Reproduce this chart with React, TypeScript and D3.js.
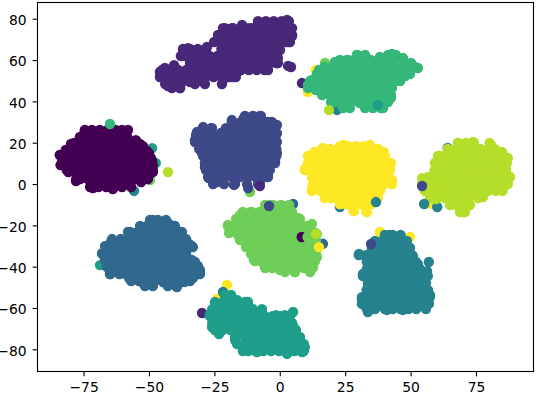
import * as d3 from 'd3';
import React from 'react';

const digit0 = [
  [26.4, -74.7, -72, -69, -66, -63, -60.5, -58.2],
  [23, -76.6, -73.5, -70.5, -67.5, -64.5, -61.5, -58.5],
  [19.6, -80, -78, -75, -72, -69, -66, -63, -60, -57, -53.6],
  [16.2, -81.5, -79.5, -76.5, -73.5, -70.5, -67.5, -64.5, -61.5, -58.5, -55.5, -52.5, -51],
  [12.8, -83.5, -81, -78, -75, -72, -69, -66, -63, -60, -57, -54, -51, -49.4],
  [9.4, -84, -82.5, -79.5, -76.5, -73.5, -70.5, -67.5, -64.5, -61.5, -58.5, -55.5, -52.5, -49.5, -48.7],
  [6, -81, -78, -75, -72, -69, -66, -63, -60, -57, -54, -51, -48.7],
  [2.7, -78, -76.5, -73.5, -70.5, -67.5, -64.5, -61.5, -58.5, -55.5, -52.5, -50.6],
  [-1.2, -72.7, -69.5, -66.5, -63.5, -60.5, -57],
];

const digit1 = [
  [79.1, -8.5, -5.5, -2.5, 0.5, 3.3],
  [75.7, -21.9, -18, -15, -12, -9, -6, -3, 0, 3, 4.5],
  [72.4, -23.8, -22.5, -19.5, -16.5, -13.5, -10.5, -7.5, -4.5, -1.5, 1.5, 4.5],
  [69, -25.3, -22, -19, -16, -13, -10, -7, -4, -1, 2, 3.7],
  [65.6, -37.2, -34.5, -31.5, -28.4, -22.5, -19.5, -16.5, -13.5, -10.5, -7.5, -4.5, -1.5, -0.9],
  [62.2, -38, -36, -33, -30, -27, -24, -21, -18, -15, -12, -9, -6, -3, -1.3],
  [58.8, -34.5, -31.5, -28.5, -25.5, -22.5, -19.5, -16.5, -13.5, -10.5, -7.5, -4.5, -1.5, -0.9],
  [55.4, -45.2, -42, -39, -36, -33, -30, -27, -24, -21, -18, -15, -12, -9, -6, -4.7],
  [52, -46, -43.5, -40.5, -37.5, -34.5, -31.5, -28.5, -25.5, -22.5, -19.5, -18, -17],
  [48.6, -44, -41, -38, -32.6, -28.8, -22.3],
  [46.7, -41.4, -38.3],
  [56.9, 4.1],
  [57.4, 3],
  [49.1, 8.3],
];

const digit2 = [
  [33.2, -13.5, -10.5, -7.4],
  [30.3, -18.5, -15, -12, -9, -6, -3.2],
  [27.3, -29.5, -26.5, -20.8, -18, -15, -12, -9, -6, -3, -2],
  [24, -32.2, -28.5, -25.5, -22.5, -19.5, -16.5, -13.5, -10.5, -7.5, -4.5, -1.6],
  [20.6, -32.6, -30, -27, -24, -21, -18, -15, -12, -9, -6, -3, -1.3],
  [17.2, -31, -28.5, -25.5, -22.5, -19.5, -16.5, -13.5, -10.5, -7.5, -4.5, -1.5],
  [13.8, -29.5, -27, -24, -21, -18, -15, -12, -9, -6, -3, -1.5],
  [10.4, -28.8, -25.5, -22.5, -19.5, -16.5, -13.5, -10.5, -7.5, -4.5, -2],
  [7, -28.4, -25, -22, -19, -16, -13, -10, -7, -4],
  [3.6, -27.6, -24.5, -21.5, -18.5, -15.5, -12.5, -9.5, -6.5, -4.7],
  [0.2, -25.7, -21.5, -17.3, -12.7, -8.5],
];

const digit3 = [
  [-17.2, -49.8, -46.8, -43.7],
  [-20.1, -53.6, -51, -48, -45, -42, -40.3],
  [-23, -57.4, -54.5, -51.5, -48.5, -45.5, -42.5, -39.5, -38.3],
  [-26.4, -64.3, -61, -58, -55, -52, -49, -46, -43, -40, -37, -36],
  [-29.8, -67, -64.5, -61.5, -58.5, -55.5, -52.5, -49.5, -46.5, -43.5, -40.5, -37.5, -34.5, -33.8],
  [-33.2, -68.1, -65, -62, -59, -56, -53, -50, -47, -44, -41, -38, -36],
  [-36.5, -67, -64.5, -61.5, -58.5, -55.5, -52.5, -49.5, -46.5, -43.5, -40.5, -37.5, -33.8],
  [-39.9, -66.2, -63, -60, -57, -54, -51, -48, -45, -42, -39, -36, -33, -31.8],
  [-43.3, -65, -61.5, -59, -55.5, -52.5, -49.5, -46.5, -43.5, -40.5, -37.5, -34.5, -31.5, -30.7],
  [-46.7, -57, -54, -51, -48, -45, -42, -39, -36, -34.5],
  [-49.1, -51.7, -48.7, -43, -39.9],
];

const digit4 = [
  [-24.4, 40, 43, 46],
  [-27.3, 36.2, 39, 42, 45, 48.4],
  [-30.7, 35, 37.5, 40.5, 43.5, 46.5, 49.6],
  [-34.1, 30, 33, 36, 39, 42, 45, 48, 50.3],
  [-37.5, 33.1, 34.5, 37.5, 40.5, 43.5, 46.5, 49.5, 51.9, 56.8],
  [-40.9, 33.1, 36, 39, 42, 45, 48, 51, 53.4],
  [-44.3, 31.6, 34.5, 37.5, 40.5, 43.5, 46.5, 49.5, 52.5, 55.5, 56.4],
  [-47.7, 33.5, 36, 39, 42, 45, 48, 51, 54, 55.3],
  [-51.1, 33, 34.5, 37.5, 40.5, 43.5, 46.5, 49.5, 52.5, 55.5, 56.5],
  [-54.5, 31.2, 33, 36, 39, 42, 45, 48, 51, 54, 57.2],
  [-57.8, 31.2, 34.5, 37.5, 40.5, 43.5, 46.5, 49.5, 52.5, 55.5, 56.8],
  [-60.3, 33.1, 36.2, 40, 43, 46, 49, 52, 55.7],
];

const digit5 = [
  [-53.5, -21.1, -18.8],
  [-56.9, -25, -22, -19, -16, -13.5, -12.3],
  [-60.3, -26, -22.5, -19.5, -16.5, -13.5, -10.5, -7],
  [-61.7, 4.9],
  [-63.7, -26.9, -24, -21, -18, -15, -12, -9, -6, -3, 0, 3, 3.7],
  [-67, -26, -22.5, -19.5, -16.5, -13.5, -10.5, -7.5, -4.5, -1.5, 1.5, 4.5],
  [-70.4, -25, -22, -19, -16, -13, -10, -7, -4, -1, 2, 5, 6],
  [-73.8, -17.3, -13.5, -10.5, -7.5, -4.5, -1.5, 1.5, 4.5, 7.5],
  [-77.2, -16.5, -14, -11, -8, -5, -2, 1, 4, 7, 9],
  [-80.6, -12.3, -9.5, -6.5, -3.5, -0.5, 2.5, 5.5, 9],
];

const digit6 = [
  [62.7, 29.3, 32.4, 41.2, 44.2],
  [60.3, 22.8, 25.5, 28.5, 31.5, 34.5, 37.5, 40.5, 43.5, 46.9],
  [56.9, 17, 20, 23, 26, 29, 32, 35, 38, 41, 44, 47, 50, 51.5],
  [53.5, 14, 16.5, 19.5, 22.5, 25.5, 28.5, 31.5, 34.5, 37.5, 40.5, 43.5, 46.5, 49.6],
  [50.1, 11.4, 14, 17, 20, 23, 26, 29, 32, 35, 38, 41, 44, 45.8],
  [46.7, 10.6, 13.5, 16.5, 19.5, 22.5, 25.5, 28.5, 31.5, 34.5, 37.5, 40.5, 42.7],
  [43.3, 16, 19, 22, 25, 28, 31, 34, 37, 40, 42.3],
  [39.9, 21, 24, 27, 30, 33, 36, 39, 41.2],
  [37, 24, 26.6, 32.4, 35.4, 39.3],
];

const digit7 = [
  [-9.9, -5.8, -2.8, 0.3, 3.3],
  [-13.3, -14.3, -11, -8, -5, -2, 1, 4.5],
  [-16.7, -16.9, -13.5, -10.5, -7.5, -4.5, -1.5, 1.5, 4.5, 7.5],
  [-20.1, -20, -17, -14, -11, -8, -5, -2, 1, 4, 7, 10, 11.4],
  [-23.5, -19.6, -16.5, -13.5, -10.5, -7.5, -4.5, -1.5, 1.5, 4.5, 7.5, 10.5, 13.6],
  [-26.9, -15.4, -12, -9, -6, -3, 0, 3, 6, 9, 12, 13.6],
  [-30.3, -13.1, -10.5, -7.5, -4.5, -1.5, 1.5, 4.5, 7.5, 10.5, 13.6],
  [-33.6, -11.2, -9, -6, -3, 0, 3, 6, 9, 12, 13.6],
  [-37, -9.7, -7.5, -4.5, -1.5, 1.5, 4.5, 7.5, 10.5, 13.3],
  [-40.4, -5.8, -3, 0, 3, 6, 9, 12.1],
  [-42.4, 1.8, 5.6, 11.4],
];

const digit8 = [
  [20.1, 68, 71, 74, 80],
  [17.2, 64, 67.5, 70.5, 73.5, 76.5, 79.5, 82],
  [13.8, 61, 63, 66, 69, 72, 75, 78, 81, 84, 85],
  [10.4, 60, 61.5, 64.5, 67.5, 70.5, 73.5, 76.5, 79.5, 82.5, 85.5, 86.6],
  [7, 59, 60, 63, 66, 69, 72, 75, 78, 81, 84, 85.5],
  [3.6, 56.5, 58.5, 61.5, 64.5, 67.5, 70.5, 73.5, 76.5, 79.5, 82.5, 85.5, 87.8],
  [0.2, 54.2, 57, 60, 63, 66, 69, 72, 75, 78, 81, 84, 87],
  [-3.1, 55.3, 58.5, 61.5, 64.5, 67.5, 70.5, 73.5, 76.5, 79.5, 82.5, 85],
  [-6.5, 57.2, 60, 63, 66, 69, 72, 75.6],
  [-9.9, 64.9, 67.5, 70.5, 72.5],
  [-13.3, 68.7, 70.6],
];

const digit9 = [
  [18.6, 22.8, 26, 29, 32, 33.5],
  [17.2, 16, 19, 22, 25, 28, 31, 34, 37.3],
  [13.8, 11.4, 14, 17, 20, 23, 26, 29, 32, 35, 38, 40],
  [10.4, 10.6, 13.5, 16.5, 19.5, 22.5, 25.5, 28.5, 31.5, 34.5, 37.5, 40.5, 42],
  [7, 9.4, 12, 15, 18, 21, 24, 27, 30, 33, 36, 39, 42],
  [3.6, 12.1, 13.5, 16.5, 19.5, 22.5, 25.5, 28.5, 31.5, 34.5, 37.5, 40.5, 41.2],
  [0.2, 12.5, 15, 18, 21, 24, 27, 30, 33, 36, 39, 42.7],
  [-3.1, 12.1, 15.2, 18, 21, 24, 27, 30, 33, 36, 38.1],
  [-6.5, 17, 19.5, 22.5, 25.5, 28.5, 31.5, 34.5, 37.3],
  [-9.4, 22.8, 25, 28, 31, 35],
  [-12.8, 28.2, 32.8],
];

const clusters = [digit0, digit1, digit2, digit3, digit4, digit5, digit6, digit7, digit8, digit9];

// the rim of each cluster, [x, y], so the edges don't show the rows
const rim0 = [[-74.7, 25.9], [-70, 24.9], [-64, 24], [-55.2, 21.5], [-52.5, 18.6], [-50.2, 15.2], [-49, 11.4], [-48.7, 7], [-50.2, 4.6], [-53.2, 1.2], [-57.5, 0.7], [-64, -2.2], [-71.6, -1.7], [-78.1, 1.7], [-81.6, 7], [-83.5, 10.4], [-84.3, 14.3], [-82, 16.7], [-78.8, 20.1], [-75, 23]];
const rim1 = [[-46, 54.5], [-44.1, 56.4], [-40.6, 57.8], [-36.4, 62.7], [-35.3, 66], [-31.8, 64.1], [-28, 66.6], [-23.8, 70.9], [-21.1, 75.7], [-18.5, 75.7], [-14.6, 77.2], [-10.8, 75.7], [-8.5, 78.7], [-3.9, 77.2], [2.6, 79.6], [4.1, 74.8], [4.5, 71.9], [2.9, 69], [-0.1, 65.1], [-0.9, 61.2], [-1.3, 58.8], [-4.7, 57.4], [-8.9, 57.8], [-16.2, 54.5], [-21.9, 50.6], [-29.5, 50.6], [-34.5, 49.6], [-38.3, 46.7], [-42.9, 47.7], [-43.7, 50.6]];
const rim2 = [[-29.5, 27.8], [-26.1, 27.3], [-22.7, 24.9], [-18.5, 31.2], [-13.9, 32.2], [-7.8, 33.2], [-4.7, 30.3], [-1.3, 28.8], [-1.3, 24.9], [-2.4, 20.1], [-1.3, 15.2], [-2, 10.9], [-4.7, 4.1], [-7.8, 1.2], [-12.3, -1.7], [-17.7, -0.2], [-24.2, 1.2], [-27.3, 3.1], [-28.8, 8.5], [-29.9, 15.2], [-32.6, 21.5], [-31.8, 25.4]];
const rim3 = [[-64.7, -27.8], [-58.2, -23], [-53.2, -20.6], [-48.7, -17.2], [-42.5, -19.1], [-37.6, -23], [-34.9, -28.8], [-33.4, -30.3], [-36, -35.1], [-32.6, -37.5], [-31.5, -39.4], [-30.7, -41.4], [-33.4, -45.3], [-36.8, -47.2], [-39.5, -49.6], [-44.8, -47.2], [-52.1, -48.2], [-57.8, -45.3], [-65.1, -43.3], [-66.2, -39.4], [-68.1, -33.6], [-66.6, -30.3]];
const rim4 = [[41.9, -24.4], [45.8, -25.9], [48.8, -29.8], [50.7, -34.6], [52.6, -38.5], [56.1, -41.9], [55.7, -47.7], [57.2, -53.5], [56.8, -57.4], [55.3, -59.3], [46.9, -60.7], [40.8, -60.7], [33.5, -61.7], [32.8, -58.8], [31.2, -55.4], [33.5, -49.6], [31.6, -43.3], [33.1, -36.5], [30.1, -33.6], [36.2, -28.8]];
const rim5 = [[-26.9, -62.7], [-23.4, -57.8], [-21.1, -53.5], [-16.6, -55.9], [-12.7, -56.9], [-7, -61.7], [-1.6, -63.2], [1.8, -63.2], [4.9, -68.5], [7.5, -74.3], [9.4, -78.7], [8.3, -81.1], [2.6, -82], [-2.8, -77.7], [-8.9, -81.1], [-14.3, -80.6], [-17.3, -75.3], [-18.5, -70.4], [-23.4, -72.4], [-26.1, -69]];
const rim6 = [[10.6, 48.2], [12.1, 50.6], [14.8, 55.4], [20.9, 59.3], [25.9, 60.3], [29.3, 62.7], [34.3, 60.3], [38.1, 61.7], [42.7, 63.2], [46.9, 61.2], [50, 58.8], [52.6, 56.4], [49.6, 54.5], [47.7, 52.5], [43.1, 49.6], [42.3, 41.9], [38.5, 37], [30.5, 39.4], [24, 37.5], [19.4, 39.9], [13.6, 45.7]];
const rim7 = [[-20, -19.6], [-15.4, -14.8], [-11.2, -13.3], [-3.9, -9.9], [-0.1, -10.9], [4.1, -12.8], [6.8, -16.2], [12.1, -19.1], [14, -24], [14, -35.1], [12.5, -40.2], [5.6, -42.4], [-0.1, -41.4], [-6.2, -38.5], [-10.1, -36.5], [-12.3, -28.8], [-16.2, -24.4], [-18.5, -22]];
const rim8 = [[54.2, 3.1], [59.1, 10.4], [60.3, 13.8], [64.1, 16.7], [67.9, 20.1], [73.7, 20.6], [80.5, 19.1], [84.8, 15.7], [87, 12.8], [86.3, 7], [87.8, 3.6], [85.1, -1.7], [82.1, -2.7], [77.5, -6.1], [69.8, -13.3], [65.6, -9.4], [59.5, -7], [56.5, -2.7]];
const rim9 = [[9.4, 7.5], [10.6, 13.8], [12.9, 15.7], [16.3, 17.7], [24, 19.1], [29.3, 18.2], [34.3, 19.1], [39.6, 15.7], [42.3, 10.4], [41.9, 7], [42.7, 2.2], [39.3, -0.2], [37, -3.6], [34.3, -8.5], [33.1, -13.3], [27.8, -12.3], [22.1, -7], [17.1, -3.6], [12.1, -1.7]];

const rims = [rim0, rim1, rim2, rim3, rim4, rim5, rim6, rim7, rim8, rim9];

// stray points: [digit, x, y]. The first lot sits behind the clusters, the second in front
const straysBehind = [
  [7, -49.8, 2.2], [4, -55.9, -3.1], [5, -49, 17.6], [5, -47.6, 10.4],
  [7, -11.6, -3.6], [8, -4.7, 4.1], [9, -19.6, 2.2], [7, -12.3, 56.4],
  [2, 10.6, 45.8], [9, 10.6, 44.8], [9, 13.6, 55.4], [7, 17.1, 58.8], [4, 21.7, 36.1],
  [5, -68.9, -39], [3, 4.9, -9.4], [3, 16.3, -28.7], [9, 38.1, -23], [9, 49.6, -25.4],
  [9, -20.4, -48.6], [9, -24.2, -55.4], [1, -29.9, -62.2], [4, -21.9, -52],
  [4, 64, 17.7], [9, 58, -9.4], [4, 60, -10.9], [4, 22.8, -10.9],
];
const straysFront = [
  [6, -65.1, 29.3], [8, -42.9, 6], [1, -7.8, -0.7], [8, 18.6, 36], [5, 37.3, 38.5],
  [2, -4.3, -10.4], [0, 8.2, -25.4], [7, 10.4, -25.4], [8, 13.6, -23.9], [9, 14.8, -30.3],
  [2, 34.7, -28.8], [2, 54.2, -0.7], [4, 55, -9.4], [4, 36.6, -8.5],
];

const xTicks = [-75, -50, -25, 0, 25, 50, 75];
const yTicks = [-80, -60, -40, -20, 0, 20, 40, 60, 80];

const width = 536;
const height = 397;
const plot = { left: 37.5, right: 533.5, top: 2.5, bottom: 371.5 };

export default function App() {
  const xScale = d3.scaleLinear().domain([-92.8, 96.8]).range([plot.left, plot.right]);
  const yScale = d3.scaleLinear().domain([-90.5, 88.1]).range([plot.bottom, plot.top]);
  const color = d3.scaleSequential(d3.interpolateViridis).domain([0, 9]);

  const clusterPoints = clusters.flatMap((rows, digit) => [
    ...rows.flatMap(([y, ...xs]) => xs.map((x) => [digit, x, y])),
    ...rims[digit].map(([x, y]) => [digit, x, y]),
  ]);
  const points = [...straysBehind, ...clusterPoints, ...straysFront];

  const styleAxis = (node, axis, dy) => {
    if (!node) return;
    const g = d3.select(node).call(axis);
    g.select('.domain').remove();
    g.selectAll('line').attr('stroke', '#000').attr('stroke-width', 1.11);
    g.selectAll('text')
      .attr('fill', '#000')
      .attr('dy', dy)
      .style('font-family', '"DejaVu Sans"')
      .style('font-size', '13.89px');
  };

  return (
    <svg
      width={width}
      height={height}
      style={{ position: 'absolute', left: 0, top: 0, background: '#fff' }}
    >
      {points.map(([digit, x, y], i) => (
        <circle
          key={i}
          cx={xScale(x)}
          cy={yScale(y)}
          r={4.17}
          fill={color(digit)}
          stroke={color(digit)}
          strokeWidth={2.08}
        />
      ))}
      <rect
        x={plot.left}
        y={plot.top}
        width={plot.right - plot.left}
        height={plot.bottom - plot.top}
        fill="none"
        stroke="#000"
        strokeWidth={1.11}
      />
      {/* X-axis */}
      <g
        transform={`translate(0,${plot.bottom})`}
        ref={(node) =>
          styleAxis(
            node,
            d3.axisBottom(xScale).tickValues(xTicks).tickSize(4.86).tickPadding(5.5).offset(0),
            '0.71em'
          )
        }
      />
      {/* Y-axis */}
      <g
        transform={`translate(${plot.left},0)`}
        ref={(node) =>
          styleAxis(
            node,
            d3.axisLeft(yScale).tickValues(yTicks).tickSize(4.86).tickPadding(6).offset(0),
            '0.42em'
          )
        }
      />
    </svg>
  );
}
